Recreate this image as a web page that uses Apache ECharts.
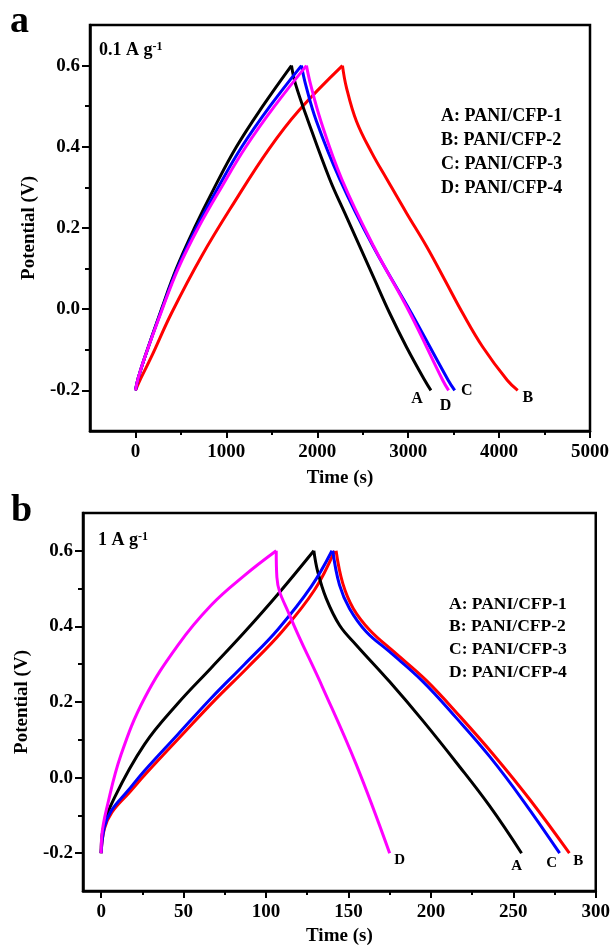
<!DOCTYPE html>
<html>
<head>
<meta charset="utf-8">
<script src="https://cdn.jsdelivr.net/npm/echarts@6/dist/echarts.min.js"></script>
<style>
html,body{margin:0;padding:0;background:#fff;}
#chart{width:613px;height:947px;}
</style>
</head>
<body>
<div id="chart"></div>
<script>
// ---------- Panel a (0.1 A g-1) : [time (s), potential (V)] ----------
const a_A_charge = [[0,-0.2],[30,-0.17],[100,-0.12],[286,0],[450,0.1],[649,0.2],[870,0.3],[1111,0.4],[1400,0.5],[1716,0.6]];
const a_A_discharge = [[1716,0.6],[1760,0.555],[1900,0.463],[2137,0.32],[2302,0.237],[2467,0.155],[2632,0.072],[2797,-0.01],[2981,-0.093],[3182,-0.175],[3250,-0.2]];
const a_B_charge = [[0,-0.2],[60,-0.17],[176,-0.117],[396,-0.01],[726,0.13],[1092,0.265],[1470,0.395],[1800,0.49],[2277,0.6]];
const a_B_discharge = [[2277,0.6],[2321,0.546],[2431,0.463],[2600,0.385],[2766,0.32],[2981,0.237],[3201,0.155],[3403,0.072],[3600,-0.01],[3820,-0.093],[4090,-0.175],[4205,-0.2]];
const a_C_charge = [[0,-0.2],[30,-0.17],[100,-0.12],[290,0],[460,0.1],[670,0.2],[910,0.3],[1170,0.4],[1480,0.5],[1826,0.6]];
const a_C_discharge = [[1826,0.6],[1870,0.555],[1991,0.463],[2248,0.32],[2614,0.155],[3036,-0.01],[3440,-0.175],[3512,-0.2]];
const a_D_charge = [[0,-0.2],[30,-0.17],[100,-0.12],[295,0],[470,0.1],[690,0.2],[945,0.3],[1215,0.4],[1530,0.5],[1881,0.6]];
const a_D_discharge = [[1881,0.6],[1925,0.555],[2040,0.463],[2270,0.32],[2620,0.155],[3020,-0.01],[3380,-0.175],[3445,-0.2]];

// ---------- Panel b (1 A g-1) ----------
const b_A_charge = [[0,-0.2],[1,-0.14],[8.1,-0.053],[26.3,0.088],[46.5,0.196],[66.7,0.29],[87,0.385],[107.2,0.485],[129,0.6]];
const b_A_discharge = [[129,0.6],[131.4,0.544],[136.5,0.474],[144.6,0.403],[154.7,0.351],[174.9,0.254],[195.2,0.15],[215.4,0.04],[235.6,-0.075],[255,-0.2]];
const b_B_charge = [[0,-0.2],[2,-0.135],[6.5,-0.092],[17,-0.04],[27.5,0.012],[48,0.108],[68.5,0.203],[89,0.292],[109.5,0.385],[129.5,0.497],[141.6,0.6]];
const b_B_discharge = [[142.5,0.6],[146.6,0.513],[153,0.447],[163,0.39],[177,0.335],[197.5,0.256],[218,0.16],[238.5,0.058],[260,-0.058],[284,-0.2]];
const b_C_charge = [[0,-0.2],[2,-0.13],[6.1,-0.088],[16.2,-0.035],[26.3,0.018],[46.5,0.114],[66.7,0.21],[87,0.3],[107.2,0.392],[127.4,0.505],[140,0.6]];
const b_C_discharge = [[140.5,0.6],[144.6,0.509],[150.7,0.447],[160.8,0.386],[174.9,0.333],[195.2,0.254],[215.4,0.158],[235.6,0.056],[255.8,-0.06],[278.1,-0.2]];
const b_D_charge = [[0,-0.2],[0.3,-0.158],[4,-0.07],[12.1,0.061],[26.3,0.21],[46.5,0.35],[66.7,0.456],[87,0.535],[106.2,0.6]];
const b_D_discharge = [[106.2,0.6],[106.6,0.53],[114.3,0.43],[134.5,0.237],[154.7,0.035],[175,-0.2]];

// ---------- Ticks ----------
const a_xMajor = [0,1000,2000,3000,4000,5000];
const a_xMinor = [500,1500,2500,3500,4500];
const b_xMajor = [0,50,100,150,200,250,300];
const b_xMinor = [25,75,125,175,225,275];
const yMajor = [-0.2,0.0,0.2,0.4,0.6];
const yMinor = [-0.1,0.1,0.3,0.5];

const legendLines = ['A: PANI/CFP-1','B: PANI/CFP-2','C: PANI/CFP-3','D: PANI/CFP-4'];
const colors = {A:'#000000', B:'#ff0000', C:'#0000ff', D:'#ff00ff'};

const FONT = '"Liberation Serif","Times New Roman",serif';
const LW = 2.5;

function xAxes(min, max, major, minor, gridIndex, gap) {
  return [
    {type:'value', gridIndex, min, max, position:'bottom',
     name:'Time (s)', nameLocation:'middle', nameGap:gap,
     nameTextStyle:{fontFamily:FONT, fontWeight:'bold', fontSize:19, color:'#000'},
     splitLine:{show:false},
     axisLine:{show:true, onZero:false, lineStyle:{color:'#000', width:LW}},
     axisTick:{show:true, inside:false, length:7, lineStyle:{color:'#000', width:2}, customValues:major},
     axisLabel:{show:true, margin:12, customValues:major, formatter:v=>String(v), fontFamily:FONT, fontWeight:'bold', fontSize:19, color:'#000'}},
    {type:'value', gridIndex, min, max, position:'bottom',
     splitLine:{show:false},
     axisLine:{show:false, onZero:false},
     axisTick:{show:true, inside:false, length:4, lineStyle:{color:'#000', width:2}, customValues:minor},
     axisLabel:{show:false}}
  ];
}
function yAxes(gridIndex, gap) {
  return [
    {type:'value', gridIndex, min:-0.3, max:0.7, position:'left',
     name:'Potential (V)', nameLocation:'middle', nameGap:gap,
     nameTextStyle:{fontFamily:FONT, fontWeight:'bold', fontSize:19, color:'#000'},
     splitLine:{show:false},
     axisLine:{show:true, onZero:false, lineStyle:{color:'#000', width:LW}},
     axisTick:{show:true, inside:false, length:8, lineStyle:{color:'#000', width:2}, customValues:yMajor},
     axisLabel:{show:true, margin:10, customValues:yMajor, formatter:v=>v.toFixed(1), fontFamily:FONT, fontWeight:'bold', fontSize:19, color:'#000'}},
    {type:'value', gridIndex, min:-0.3, max:0.7, position:'left',
     splitLine:{show:false},
     axisLine:{show:false, onZero:false},
     axisTick:{show:true, inside:false, length:5, lineStyle:{color:'#000', width:2}, customValues:yMinor},
     axisLabel:{show:false}}
  ];
}

function line(data, color, xi, yi, lab) {
  const s = {type:'line', data, xAxisIndex:xi, yAxisIndex:yi, smooth:0.4, symbol:'none',
    lineStyle:{color, width:3}, itemStyle:{color}, animation:false, z:2};
  if (lab) {
    s.endLabel = {show:true, formatter:lab.t, align:'center', verticalAlign:'middle', distance:0,
      offset:lab.o, fontFamily:FONT, fontWeight:'bold', fontSize:lab.fs, color:'#000'};
  }
  return s;
}

const series = [
  // panel a
  line(a_B_charge, colors.B, 0, 0), line(a_B_discharge, colors.B, 0, 0, {t:'B', o:[10,7], fs:16}),
  line(a_A_charge, colors.A, 0, 0), line(a_A_discharge, colors.A, 0, 0, {t:'A', o:[-14,8], fs:16}),
  line(a_C_charge, colors.C, 0, 0), line(a_C_discharge, colors.C, 0, 0, {t:'C', o:[12,0], fs:16}),
  line(a_D_charge, colors.D, 0, 0), line(a_D_discharge, colors.D, 0, 0, {t:'D', o:[-3,15], fs:16}),
  // panel b
  line(b_B_charge, colors.B, 2, 2), line(b_B_discharge, colors.B, 2, 2, {t:'B', o:[9,8], fs:15}),
  line(b_A_charge, colors.A, 2, 2), line(b_A_discharge, colors.A, 2, 2, {t:'A', o:[-5,13], fs:15}),
  line(b_C_charge, colors.C, 2, 2), line(b_C_discharge, colors.C, 2, 2, {t:'C', o:[-8,10], fs:15}),
  line(b_D_charge, colors.D, 2, 2), line(b_D_discharge, colors.D, 2, 2, {t:'D', o:[10,7], fs:15}),
];

function legendTexts(x, y0, dy, fs) {
  return legendLines.map((t,i)=>({type:'text', x, y:y0+i*dy, z:10,
    style:{text:t, fontFamily:FONT, fontWeight:'bold', fontSize:fs, fill:'#000', verticalAlign:'middle', align:'left'}}));
}

const option = {
  backgroundColor:'#ffffff',
  animation:false,
  grid:[
    {left:90, top:25, width:500, height:406, show:true, borderColor:'#000', borderWidth:LW, backgroundColor:'transparent'},
    {left:83, top:513, width:513, height:380, show:true, borderColor:'#000', borderWidth:LW, backgroundColor:'transparent'}
  ],
  xAxis:[...xAxes(-500, 5000, a_xMajor, a_xMinor, 0, 38), ...xAxes(-11, 300, b_xMajor, b_xMinor, 1, 36)],
  yAxis:[...yAxes(0, 44), ...yAxes(1, 37)],
  series,
  graphic:[
    {type:'text', x:10, y:22, style:{text:'a', fontFamily:FONT, fontWeight:'bold', fontSize:38, fill:'#000', verticalAlign:'middle'}},
    {type:'text', x:11, y:511, style:{text:'b', fontFamily:FONT, fontWeight:'bold', fontSize:38, fill:'#000', verticalAlign:'middle'}},
    {type:'text', x:99, y:50, style:{text:'{n|0.1 A g}{s|-1}', fontFamily:FONT, fontWeight:'bold', fontSize:18, fill:'#000', verticalAlign:'middle',
      rich:{n:{fontFamily:FONT, fontWeight:'bold', fontSize:18, fill:'#000'}, s:{fontFamily:FONT, fontWeight:'bold', fontSize:12, fill:'#000', verticalAlign:'top'}}}},
    {type:'text', x:98, y:540, style:{text:'{n|1 A g}{s|-1}', fontFamily:FONT, fontWeight:'bold', fontSize:18, fill:'#000', verticalAlign:'middle',
      rich:{n:{fontFamily:FONT, fontWeight:'bold', fontSize:18, fill:'#000'}, s:{fontFamily:FONT, fontWeight:'bold', fontSize:12, fill:'#000', verticalAlign:'top'}}}},
    ...legendTexts(441, 116, 24, 18),
    ...legendTexts(449, 604, 22.7, 17.5)
  ]
};

const chart = echarts.init(document.getElementById('chart'), null, {renderer:'canvas'});
chart.setOption(option);
</script>
</body>
</html>
